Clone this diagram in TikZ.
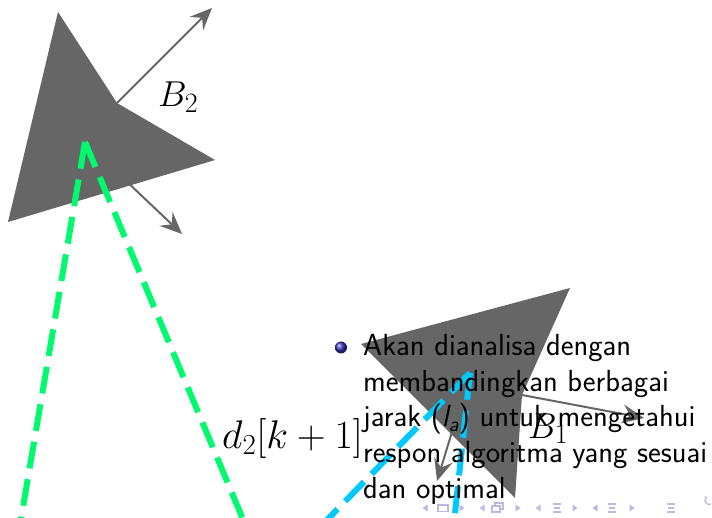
\documentclass[tikz,border=0pt]{standalone}
\usepackage{fix-cm}
\usepackage{amsmath}
\usepackage{fontspec}
\usetikzlibrary{arrows.meta}

\DeclareMathSizes{36}{36}{28}{20}
\DeclareMathSizes{40}{40}{29}{22}

\definecolor{robotgray}{RGB}{102,102,102}
\definecolor{raygreen}{RGB}{0,250,110}
\definecolor{raycyan}{RGB}{0,200,250}
\definecolor{navblue}{RGB}{185,185,228}
\definecolor{ballblue}{RGB}{51,51,179}

\begin{document}
\begin{tikzpicture}[
  x=1pt,y=-1pt,
  robot/.style={fill=robotgray},
  vel/.style={-{Stealth[length=22pt,width=19pt,inset=8pt]},draw=robotgray,line width=2pt},
  ray/.style={line width=6pt,dash pattern=on 27pt off 11pt},
  lbl/.style={anchor=base west,inner sep=0pt,font=\fontsize{36}{40}\selectfont},
  nav/.style={fill=navblue},
  navline/.style={draw=navblue,line width=1.2pt}
]
\useasboundingbox (0,0) rectangle (712,518);
\clip (0,0) rectangle (712,518);

% robot B2 (top left)
\coordinate (b2tip) at (8,222);
\coordinate (b2wa) at (58,12);
\coordinate (b2notch) at (117,103);
\coordinate (b2wb) at (215,160);
\coordinate (b2c) at (85,142);
\coordinate (b2vaend) at (212,8);
\coordinate (b2vbend) at (182,234);
\draw[vel] (b2notch) -- (b2vaend);
\draw[vel] (b2c) -- (b2vbend);
\fill[robot] (b2tip) -- (b2wa) -- (b2notch) -- (b2wb) -- cycle;
\coordinate (b2rayl) at (14,560);
\coordinate (b2rayr) at (260,560);
\draw[ray,raygreen] (b2c) -- (b2rayl);
\draw[ray,raygreen] (b2c) -- (b2rayr);
\node[lbl] (b2) at (158,107) {$B_2$};

% robot B1 (bottom right)
\coordinate (b1tip) at (361,344);
\coordinate (b1wa) at (570,288);
\coordinate (b1notch) at (522,395);
\coordinate (b1wb) at (515,498);
\coordinate (b1c) at (470,373);
\coordinate (b1vaend) at (644,418);
\coordinate (b1vbend) at (437,481);
\draw[vel] (b1notch) -- (b1vaend);
\draw[vel] (b1c) -- (b1vbend);
\fill[robot] (b1tip) -- (b1wa) -- (b1notch) -- (b1wb) -- cycle;
\coordinate (b1rayl) at (288,560);
\coordinate (b1rayr) at (450,560);
\draw[ray,raycyan] (b1c) -- (b1rayl);
\draw[ray,raycyan] (b1c) -- (b1rayr);
\node[lbl] (b1) at (528,438) {$B_1$};

\node[lbl,font=\fontsize{40}{44}\selectfont] (dist) at (222,448) {$d_2[k+1]$};

% bullet item
\node[circle,minimum size=12pt,inner sep=0pt,shading=ball,ball color=ballblue] (bullet) at (341,347.5) {};
\node[anchor=north west,inner sep=0pt,align=left,font=\sffamily\fontsize{30.5}{35.8}\selectfont] (item) at (363,334)
  {Akan dianalisa dengan\\membandingkan berbagai\\jarak ($\textit{l}_{\textit{a}}$) untuk mengetahui\\respon algoritma yang sesuai\\dan optimal};

% navigation symbols
\foreach \x in {425,482,538,595}
  \fill[nav] (\x-2.5,508) -- (\x+2.5,504.5) -- (\x+2.5,511.5) -- cycle;
\foreach \x in {462,518,575,632}
  \fill[nav] (\x+2.5,508) -- (\x-2.5,504.5) -- (\x-2.5,511.5) -- cycle;
\draw[navline] (438,505) rectangle (448,511.5);
\draw[navline] (495,503) rectangle (503,509);
\draw[navline,fill=white] (492,506) rectangle (500,512);
\foreach \x in {557,612,671} {
  \draw[navline] (\x-4,504) -- (\x+4,504);
  \draw[navline,line width=2pt] (\x-3,508) -- (\x+3,508);
  \draw[navline] (\x-4,512) -- (\x+4,512);
}
\draw[navline,-{Stealth[length=3pt,width=3pt]}] (711,504) arc (60:250:4);
\end{tikzpicture}
\end{document}
